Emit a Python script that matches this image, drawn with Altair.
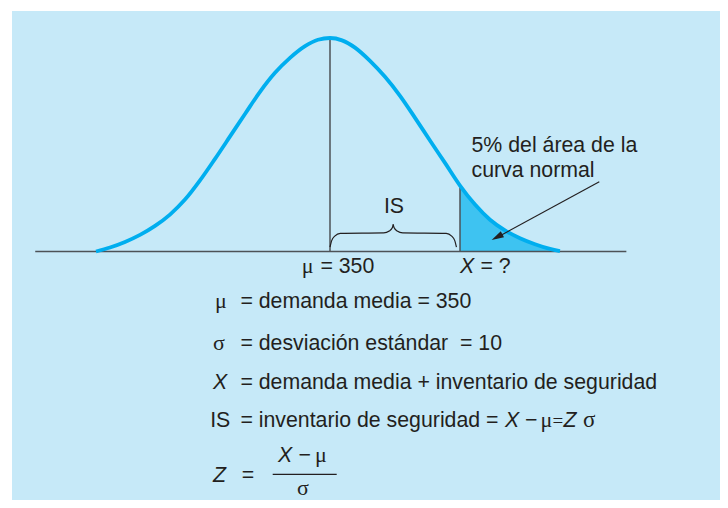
import altair as alt
import pandas as pd

# ---- data ----
MU = 350.0          # demanda media
X_VAL = 366.45      # X = ?  (mu + 1.645 sigma)

curve_x = [320.39, 322.16, 324.06, 325.96, 327.86, 329.75, 331.65, 333.55, 335.45, 337.35, 339.24, 341.14,
           343.04, 344.94, 346.84, 348.48, 350.00,
           351.52, 353.16, 355.06, 356.96, 358.86, 360.76, 362.65, 364.55, 366.45, 368.35, 370.25,
           372.14, 374.04, 375.94, 377.84, 379.10]
curve_y = [0.000, 0.019, 0.045, 0.078, 0.120, 0.173, 0.243, 0.333, 0.434, 0.539, 0.644, 0.748,
           0.837, 0.907, 0.962, 0.992, 1.000,
           0.989, 0.955, 0.893, 0.818, 0.729, 0.626, 0.520, 0.415, 0.309, 0.220, 0.149,
           0.099, 0.062, 0.034, 0.012, 0.002]

axis_x = [312.7, 387.5]

brace_x = [350.0, 350.2, 350.6, 351.3, 356.8, 357.5, 357.9, 358.0,
           358.0, 358.1, 358.5, 359.2, 364.7, 365.4, 365.8, 366.0]
brace_y = [0.020, 0.050, 0.072, 0.085, 0.087, 0.096, 0.112, 0.127,
           0.127, 0.112, 0.096, 0.087, 0.085, 0.072, 0.050, 0.020]
brace_part = ["a"] * 8 + ["b"] * 8

BG = "#C6E9F8"
CURVE = "#00AEEF"
SHADE = "#3EC3F1"
LINE = "#4D5257"
TXT = "#231F20"

curve_df = pd.DataFrame({"x": curve_x, "y": curve_y})
tail_df = curve_df[curve_df["x"] >= X_VAL].reset_index(drop=True)
brace_df = pd.DataFrame({"x": brace_x, "y": brace_y, "part": brace_part})

xs = alt.Scale(domain=[MU, X_VAL], range=[318, 448], nice=False, zero=False)
ys = alt.Scale(domain=[0, 1], range=[240.5, 27], nice=False, zero=False)

X = lambda f="x": alt.X(f, type="quantitative", scale=xs, axis=None)
Y = lambda f="y": alt.Y(f, type="quantitative", scale=ys, axis=None)

baseline = alt.Chart(pd.DataFrame({"x": [axis_x[0]], "x2": [axis_x[1]], "y": [0.0]})).mark_rule(
    color=LINE, strokeWidth=1.6).encode(x=X("x"), x2="x2", y=Y("y"))

vlines = alt.Chart(pd.DataFrame({"x": [MU, X_VAL], "y": [0.0, 0.0], "y2": [1.0, 0.30]})).mark_rule(
    color=LINE, strokeWidth=1.5).encode(x=X("x"), y=Y("y"), y2="y2")

area = alt.Chart(tail_df).mark_area(color=SHADE, interpolate="monotone", opacity=1).encode(
    x=X("x"), y=Y("y"), y2=alt.datum(0))

curve = alt.Chart(curve_df).mark_line(color=CURVE, strokeWidth=3.8, interpolate="monotone").encode(
    x=X("x"), y=Y("y"))

brace = alt.Chart(brace_df).mark_line(color=TXT, strokeWidth=1.2, interpolate="monotone").encode(
    x=X("x"), y=Y("y"), detail="part:N")

arrow = alt.Chart(alt.Data(values=[{}])).mark_rule(color=TXT, strokeWidth=1.2).encode(
    x=alt.value(587.3), x2=alt.value(483), y=alt.value(170.7), y2=alt.value(227.5))
arrow_head = alt.Chart(alt.Data(values=[{}])).mark_point(
    shape="M0,-1L0.55,1L-0.55,1Z", filled=True, size=150, angle=241.6, color=TXT, opacity=1, strokeWidth=0
).encode(x=alt.value(485.0), y=alt.value(226.1))

frac_bar = alt.Chart(alt.Data(values=[{}])).mark_rule(color=TXT, strokeWidth=1.3).encode(
    x=alt.value(260.7), x2=alt.value(324.7), y=alt.value(463.3))

FS = 21.3


def txt(s, x, y, font="Liberation Sans", size=FS, style="normal", align="left"):
    return alt.Chart(alt.Data(values=[{}])).mark_text(
        text=s, font=font, fontSize=size, fontStyle=style, align=align,
        baseline="alphabetic", color=TXT
    ).encode(x=alt.value(x), y=alt.value(y))


SERIF = "Liberation Serif"
texts = [
    txt("IS", 382, 202, align="center"),
    txt("\u03bc", 289.7, 261.7, font=SERIF, size=22),
    txt("= 350", 308.4, 261.7),
    txt("X", 448, 261.7, style="italic"),
    txt("= ?", 468.4, 261.7),
    txt("5% del área de la", 459.5, 141.3),
    txt("curva normal", 459.5, 165.7),
    # legend rows
    txt("\u03bc", 203, 297.3, font=SERIF, size=22),
    txt("= demanda media = 350", 228.4, 297.3),
    txt("\u03c3", 201, 339, font=SERIF, size=22),
    txt("= desviación estándar\u00a0 = 10", 228.4, 339),
    txt("X", 201, 378.3, style="italic"),
    txt("= demanda media + inventario de seguridad", 228.4, 378.3),
    txt("IS", 198.2, 415.7),
    txt("= inventario de seguridad =", 228.4, 415.7),
    txt("X", 493, 415.7, style="italic"),
    txt("\u2212", 513, 415.7),
    txt("\u03bc", 528.5, 415.7, font=SERIF, size=22),
    txt("=", 540.5, 415.7, font=SERIF, size=19),
    txt("Z", 551.5, 415.7, style="italic"),
    txt("\u03c3", 571, 415.7, font=SERIF, size=23),
    txt("Z", 201, 470.7, style="italic"),
    txt("=", 229.7, 470.7),
    txt("X", 266, 450.7, style="italic"),
    txt("\u2212", 286.5, 450.7),
    txt("\u03bc", 303, 450.7, font=SERIF, size=22),
    txt("\u03c3", 285, 484, font=SERIF, size=22),
]

chart = alt.layer(
    area, baseline, vlines, curve, brace, arrow, arrow_head, frac_bar, *texts
).properties(
    width=708, height=489, autosize="none", background="white",
    padding={"left": 4, "top": 3, "right": 0, "bottom": 0}
).configure_view(fill=BG, strokeWidth=0)

chart.save("out.html", embed_options={"renderer": "svg", "actions": False})
